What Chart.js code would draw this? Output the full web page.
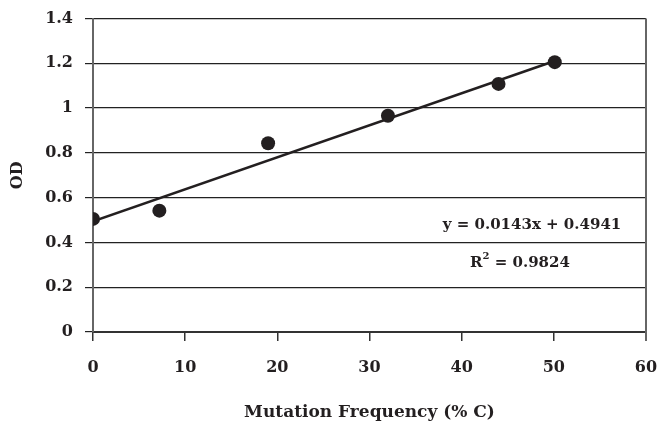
<!DOCTYPE html>
<html>
<head>
<meta charset="utf-8">
<script src="https://cdn.jsdelivr.net/npm/chart.js@4/dist/chart.umd.min.js"></script>
<style>
    html, body { margin: 0; padding: 0; background: #ffffff; }
    #wrap { width: 660px; height: 423px; }
</style>
</head>
<body>
<div id="wrap"><canvas id="odChart" width="660" height="423"></canvas></div>
<script>
// measured OD against mutation frequency
const mutationFrequency = [0, 7.2, 19, 32, 44, 50.1];
const odValues = [0.505, 0.542, 0.843, 0.966, 1.108, 1.205];

// least-squares fit shown on the chart
const fitSlope = 0.0143;
const fitIntercept = 0.4941;
const fitRange = [0, 50];
const fitLabel = "y = 0.0143x + 0.4941";
const rSquaredLabel = "0.9824";

const xTickLabels = ["0", "10", "20", "30", "40", "50", "60"];
const yTickLabels = ["0", "0.2", "0.4", "0.6", "0.8", "1", "1.2", "1.4"];

const INK = "#231f20";
const FONT_FAMILY = "'DejaVu Serif', serif";

const scatterPoints = mutationFrequency.map((x, i) => ({ x, y: odValues[i] }));
const fitPoints = fitRange.map((x) => ({ x, y: fitSlope * x + fitIntercept }));

// right-hand frame line and the trendline equation
const annotations = {
    id: "annotations",
    beforeDatasetsDraw(chart) {
        const { ctx, chartArea } = chart;
        ctx.save();
        ctx.strokeStyle = "#666666";
        ctx.lineWidth = 2;
        ctx.beginPath();
        ctx.moveTo(chartArea.right, chartArea.top);
        ctx.lineTo(chartArea.right, chartArea.bottom + 9);
        ctx.stroke();
        ctx.restore();
    },
    afterDatasetsDraw(chart) {
        const { ctx } = chart;
        ctx.save();
        ctx.fillStyle = INK;
        ctx.textBaseline = "middle";
        ctx.font = "bold 15px " + FONT_FAMILY;
        ctx.textAlign = "center";
        ctx.fillText(fitLabel, 532, 225);

        // R² with a raised exponent
        const rest = " = " + rSquaredLabel;
        const rWidth = ctx.measureText("R").width;
        ctx.font = "bold 10px " + FONT_FAMILY;
        const supWidth = ctx.measureText("2").width;
        ctx.font = "bold 15px " + FONT_FAMILY;
        const restWidth = ctx.measureText(rest).width;
        let x = 520 - (rWidth + supWidth + restWidth) / 2;
        ctx.textAlign = "left";
        ctx.fillText("R", x, 263);
        x += rWidth;
        ctx.font = "bold 10px " + FONT_FAMILY;
        ctx.fillText("2", x, 256);
        x += supWidth;
        ctx.font = "bold 15px " + FONT_FAMILY;
        ctx.fillText(rest, x, 263);
        ctx.restore();
    },
};

const context = document.getElementById("odChart").getContext("2d");
new Chart(context, {
    type: "scatter",
    data: {
        datasets: [
            {
                label: "OD",
                data: scatterPoints,
                pointRadius: 7,
                pointHoverRadius: 7,
                pointBackgroundColor: INK,
                pointBorderColor: INK,
                pointBorderWidth: 0,
                order: 1,
            },
            {
                label: "Linear fit",
                type: "line",
                data: fitPoints,
                borderColor: INK,
                borderWidth: 2.5,
                pointRadius: 0,
                fill: false,
                order: 2,
            },
        ],
    },
    plugins: [annotations],
    options: {
        responsive: false,
        animation: false,
        layout: {
            padding: { top: 18.5, right: 14, left: 0, bottom: 0 },
        },
        plugins: {
            legend: { display: false },
            tooltip: { enabled: false },
        },
        scales: {
            x: {
                type: "linear",
                min: 0,
                max: 60,
                ticks: {
                    stepSize: 10,
                    padding: 17,
                    color: INK,
                    font: { family: FONT_FAMILY, size: 16, weight: "bold" },
                    callback: (value, index) => xTickLabels[index],
                },
                grid: {
                    drawOnChartArea: false,
                    drawTicks: true,
                    tickLength: 9,
                    color: "#333333",
                    lineWidth: 1.5,
                },
                border: { display: true, color: "#333333", width: 2 },
                title: {
                    display: true,
                    text: "Mutation Frequency (% C)",
                    color: INK,
                    padding: 0,
                    font: { family: FONT_FAMILY, size: 17, weight: "bold", lineHeight: 1.2 },
                },
                afterFit: (scale) => {
                    scale.height = 91;
                    scale.paddingLeft = 0;
                    scale.paddingRight = 0;
                },
            },
            y: {
                min: 0,
                max: 1.4,
                ticks: {
                    stepSize: 0.2,
                    padding: 12,
                    color: INK,
                    font: { family: FONT_FAMILY, size: 16, weight: "bold" },
                    callback: (value, index) => yTickLabels[index],
                },
                grid: {
                    drawTicks: true,
                    tickLength: 8,
                    color: "#222222",
                    lineWidth: 1.2,
                },
                border: { display: true, color: "#666666", width: 2 },
                title: {
                    display: true,
                    text: "OD",
                    color: INK,
                    padding: 8,
                    font: { family: FONT_FAMILY, size: 16, weight: "bold", lineHeight: 1.2 },
                },
                afterFit: (scale) => {
                    scale.width = 93;
                    scale.paddingTop = 0;
                    scale.paddingBottom = 0;
                },
            },
        },
    },
});
</script>
</body>
</html>
